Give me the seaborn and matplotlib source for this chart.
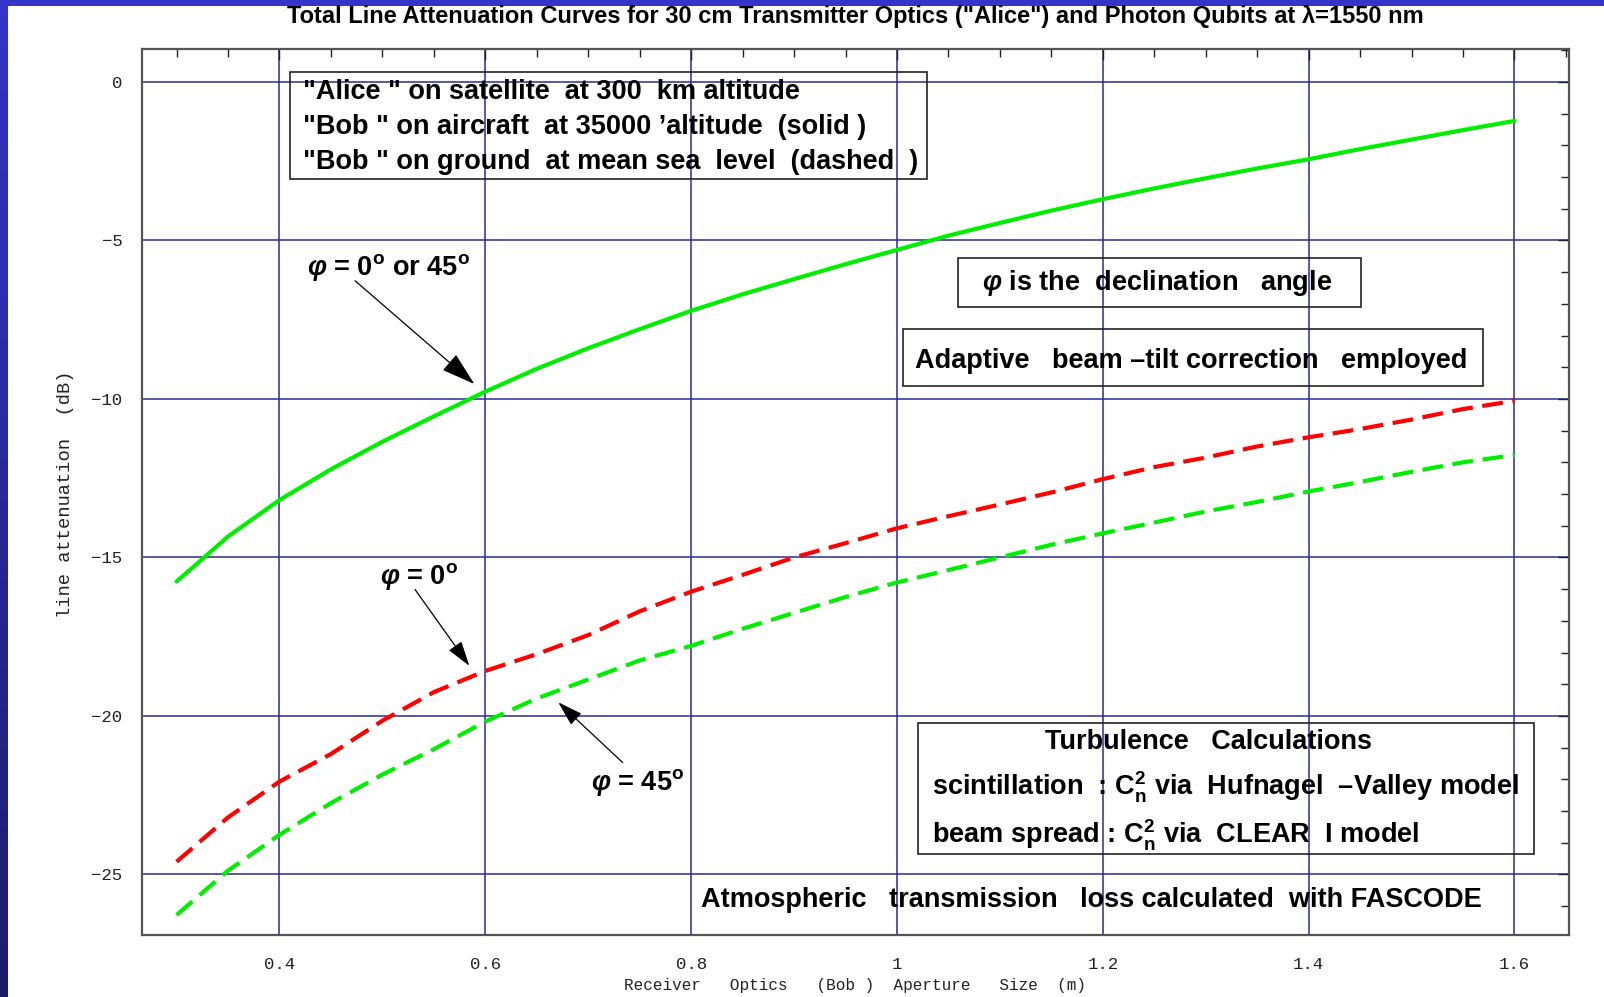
import numpy as np
import pandas as pd
import matplotlib
matplotlib.use("Agg")
import matplotlib.pyplot as plt
from matplotlib.patches import Rectangle
from matplotlib.ticker import MultipleLocator, FixedLocator
import seaborn as sns

# Receiver aperture sizes (m)
aperture = [0.30, 0.35, 0.40, 0.45, 0.50, 0.55, 0.60, 0.65, 0.70, 0.75, 0.80,
            0.85, 0.90, 0.95, 1.00, 1.05, 1.10, 1.15, 1.20, 1.25, 1.30, 1.35,
            1.40, 1.45, 1.50, 1.55, 1.60]

# Total line attenuation (dB)
aircraft = [-15.76, -14.34, -13.19, -12.22, -11.35, -10.55, -9.77, -9.05, -8.40,
            -7.80, -7.22, -6.70, -6.22, -5.75, -5.30, -4.85, -4.45, -4.06, -3.70,
            -3.36, -3.04, -2.73, -2.44, -2.12, -1.82, -1.52, -1.23]
ground_0 = [-24.60, -23.20, -22.07, -21.20, -20.15, -19.25, -18.58, -18.05, -17.45,
            -16.70, -16.08, -15.55, -15.00, -14.55, -14.08, -13.70, -13.33, -12.95,
            -12.53, -12.15, -11.85, -11.50, -11.21, -10.95, -10.65, -10.32, -10.06]
ground_45 = [-26.28, -24.88, -23.75, -22.75, -21.85, -21.05, -20.18, -19.45, -18.85,
             -18.25, -17.79, -17.25, -16.75, -16.25, -15.79, -15.40, -15.00, -14.60,
             -14.24, -13.90, -13.55, -13.25, -12.92, -12.62, -12.30, -12.00, -11.77]

x_major = [0.4, 0.6, 0.8, 1.0, 1.2, 1.4, 1.6]
x_labels = ["0.4", "0.6", "0.8", "1", "1.2", "1.4", "1.6"]
y_major = [0, -5, -10, -15, -20, -25]

sns.set_theme(style="white")
plt.rcParams["font.family"] = ["Liberation Sans", "DejaVu Sans"]
plt.rcParams["mathtext.fontset"] = "custom"
plt.rcParams["mathtext.rm"] = "Liberation Sans:bold"
plt.rcParams["mathtext.it"] = "Liberation Sans:italic:bold"
plt.rcParams["mathtext.bf"] = "Liberation Sans:bold"

W, H = 1604, 997
fig = plt.figure(figsize=(W / 100, H / 100), dpi=100, facecolor="white")

# page frame: blue band on top, shaded strip on the left
fig.patches.append(Rectangle((0, 1 - 6 / H), 1, 6 / H, transform=fig.transFigure,
                             facecolor="#3434c8", edgecolor="none", zorder=0))
strip = fig.add_axes([0, 0, 8 / W, 1 - 6 / H])
grad = np.linspace(0, 1, 256)[:, None, None]
top_c = np.array([52, 52, 200]) / 255
bot_c = np.array([28, 28, 108]) / 255
strip.imshow(top_c * (1 - grad) + bot_c * grad, aspect="auto")
strip.set_axis_off()

L, R, B, T = 141.8, 1569, 934.7, 49.3
ax = fig.add_axes([L / W, 1 - B / H, (R - L) / W, (B - T) / H])

df = pd.DataFrame({
    "aperture": aperture * 3,
    "atten": aircraft + ground_0 + ground_45,
    "case": ["air"] * len(aperture) + ["g0"] * len(aperture) + ["g45"] * len(aperture),
})
palette = {"air": "#00ee00", "g0": "#ff0000", "g45": "#00ee00"}
dashes = {"air": "", "g0": (5, 2.3), "g45": (5, 2.3)}
sns.lineplot(data=df, x="aperture", y="atten", hue="case", style="case",
             palette=palette, dashes=dashes, linewidth=3.0, legend=False,
             ax=ax, zorder=3)

ax.set_xlim(0.2662, 1.653)
ax.set_ylim(-26.90, 1.03)
ax.xaxis.set_major_locator(FixedLocator(x_major))
ax.set_xticklabels(x_labels)
ax.xaxis.set_minor_locator(MultipleLocator(0.05))
ax.yaxis.set_major_locator(FixedLocator(y_major))
ax.yaxis.set_minor_locator(MultipleLocator(1))
ax.grid(True, which="major", color="#2a2a98", linewidth=1.1)
ax.set_axisbelow(True)
ax.tick_params(which="both", direction="in", top=True, right=True, color="#222222")
ax.tick_params(which="major", length=8, width=1.0)
ax.tick_params(which="minor", length=5.5, width=1.0)
ax.tick_params(axis="x", pad=16)
ax.tick_params(axis="y", pad=14)
for lab in ax.get_xticklabels() + ax.get_yticklabels():
    lab.set_family("Liberation Mono")
    lab.set_fontsize(12.5)
    lab.set_color("#222222")
for sp in ax.spines.values():
    sp.set_color("#555555")
    sp.set_linewidth(1.6)
ax.set_xlabel("")
ax.set_ylabel("")

fig.text(855 / W, 1 - 985 / H, "Receiver   Optics   (Bob )  Aperture   Size  (m)",
         family="Liberation Mono", fontsize=11.5, color="#222222",
         ha="center", va="center")
fig.text(66 / W, 1 - 494 / H, "line attenuation  (dB)", family="Liberation Mono",
         fontsize=13.5, color="#222222", rotation=90, ha="center", va="center")

fig.text(855 / W, 1 - 17 / H,
         "Total Line Attenuation Curves for 30 cm Transmitter Optics (\"Alice\") "
         "and Photon Qubits at \u03bb=1550 nm",
         family=["Liberation Sans Narrow", "Liberation Sans"], fontweight="bold",
         fontsize=17, ha="center", va="center", color="black")

tkw = dict(transform=ax.transAxes, fontweight="bold", fontsize=19.5, color="black",
           va="center", zorder=5)


def box(x0, y0, x1, y1):
    ax.add_patch(Rectangle((x0, y0), x1 - x0, y1 - y0, transform=ax.transAxes,
                           fill=False, edgecolor="#222222", linewidth=1.2, zorder=4))


box(0.1035, 0.8535, 0.550, 0.9748)
ax.text(0.113, 0.9518, "\"Alice \" on satellite  at 300  km altitude", **tkw)
ax.text(0.113, 0.9123, "\"Bob \" on aircraft  at 35000 \u2019altitude  (solid )", **tkw)
ax.text(0.113, 0.8728, "\"Bob \" on ground  at mean sea  level  (dashed  )", **tkw)

box(0.5722, 0.7089, 0.8540, 0.7645)
ax.text(0.5887, 0.7356, r"$\varphi$ is the  declination   angle", **tkw)

box(0.5333, 0.6201, 0.9397, 0.6841)
ax.text(0.5415, 0.6479, "Adaptive   beam \u2013tilt correction   employed", **tkw)

box(0.5436, 0.0911, 0.9758, 0.2391)
ax.text(0.7471, 0.2180, "Turbulence   Calculations", ha="center", **tkw)
ax.text(0.5537, 0.1660,
        "scintillation  : C$_\\mathrm{n}^\\mathrm{2}$ via  Hufnagel  \u2013Valley model",
        **tkw)
ax.text(0.5537, 0.1117, "beam spread : C$_\\mathrm{n}^\\mathrm{2}$ via  CLEAR  I model",
        **tkw)

ax.text(0.3917, 0.0392, "Atmospheric   transmission   loss calculated  with FASCODE", **tkw)

ax.text(0.1158, 0.7530, r"$\varphi$ = 0$^\mathrm{o}$ or 45$^\mathrm{o}$", **tkw)
ax.text(0.1669, 0.4040, r"$\varphi$ = 0$^\mathrm{o}$", **tkw)
ax.text(0.3147, 0.1718, r"$\varphi$ = 45$^\mathrm{o}$", **tkw)

ax.annotate("", xy=(0.5893, -9.527), xytext=(0.4734, -6.27),
            arrowprops=dict(arrowstyle="-|>,head_length=1.8,head_width=0.55",
                            mutation_scale=12, lw=0.9, color="black",
                            shrinkA=0, shrinkB=0), zorder=5)
ax.annotate("", xy=(0.5845, -18.42), xytext=(0.5317, -16.01),
            arrowprops=dict(arrowstyle="-|>,head_length=1.3,head_width=0.4",
                            mutation_scale=12, lw=0.9, color="black",
                            shrinkA=0, shrinkB=0), zorder=5)
ax.annotate("", xy=(0.6709, -19.57), xytext=(0.7335, -21.47),
            arrowprops=dict(arrowstyle="-|>,head_length=1.3,head_width=0.4",
                            mutation_scale=12, lw=0.9, color="black",
                            shrinkA=0, shrinkB=0), zorder=5)

fig.savefig("out.png", dpi=100, facecolor="white")
